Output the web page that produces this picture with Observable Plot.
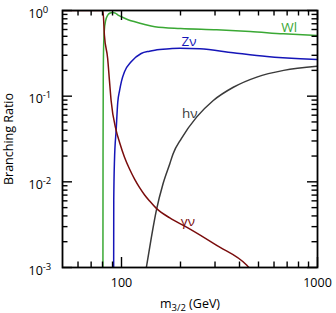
<!DOCTYPE html>
<html><head><meta charset="utf-8">
<script src="https://cdn.jsdelivr.net/npm/d3@7"></script>
<script src="https://cdn.jsdelivr.net/npm/@observablehq/plot@0.6"></script>
<style>body{margin:0;background:#fff}</style>
</head><body><div id="chart"></div>
<script>
// ---- data (gravitino mass in GeV, branching ratio) ----
const wlMass = [80.4, 80.5, 80.7, 81.1, 81.8, 83.0, 85.0, 87.5, 90.2, 93.0, 96.0, 100, 108, 117, 130, 148, 200, 306, 453, 670, 1000];
const wlBR   = [0.0008, 0.02, 0.15, 0.4, 0.6, 0.76, 0.88, 0.935, 0.95, 0.93, 0.885, 0.845, 0.78, 0.738, 0.69, 0.645, 0.615, 0.595, 0.569, 0.535, 0.511];

const zvMass = [91.2, 91.3, 92.1, 93.9, 95.7, 97.7, 100, 103.6, 112, 126, 139, 148, 176, 198, 251, 371, 552, 818, 1000];
const zvBR   = [0.0008, 0.006, 0.018, 0.04, 0.085, 0.115, 0.15, 0.193, 0.252, 0.315, 0.335, 0.344, 0.357, 0.363, 0.357, 0.321, 0.29, 0.273, 0.268];

const gvMass = [50, 80.4, 81.8, 85, 86.8, 88.5, 93.9, 97.7, 103.6, 109.9, 116.6, 123.7, 131.2, 139.2, 150.6, 176.4, 214.8, 306, 436, 450];
const gvBR   = [1.0, 1.0, 0.515, 0.275, 0.152, 0.089, 0.0398, 0.029, 0.0194, 0.0141, 0.01075, 0.00855, 0.00703, 0.00596, 0.0049, 0.00379, 0.00296, 0.00181, 0.00106, 0.00098];

const hvMass = [133.9, 142.1, 150.6, 162.9, 176.4, 183.4, 202, 241.6, 294, 372, 490, 672, 1000];
const hvBR   = [0.001, 0.00226, 0.00464, 0.0095, 0.0163, 0.0213, 0.032, 0.0569, 0.089, 0.127, 0.167, 0.2, 0.224];

const seriesNames = ["Wl", "Zν", "hν", "γν"];
const labelMass = [718, 221, 223, 218];
const labelBR   = [0.633, 0.435, 0.0628, 0.00345];

const xMajorTicks = [100, 1000];
const xMinorTicks = [60, 70, 80, 90, 200, 300, 400, 500, 600, 700, 800, 900];
const xTickLabels = ["100", "1000"];
const yMajorTicks = [1, 0.1, 0.01, 0.001];
const yMinorTicks = [0.9,0.8,0.7,0.6,0.5,0.4,0.3,0.2, 0.09,0.08,0.07,0.06,0.05,0.04,0.03,0.02, 0.009,0.008,0.007,0.006,0.005,0.004,0.003,0.002];
const yTickLabels = ["10^0", "10^-1", "10^-2", "10^-3"];
const xTitle = "m_3/2_ (GeV)";
const yTitle = "Branching Ratio";

// ---- styles ----
const colors = {"Wl": "#3aa834", "Zν": "#1515b8", "hν": "#3a3a3a", "γν": "#7a0c0c"};

const rows = [];
const add = (name, ms, bs) => ms.forEach((m, i) => rows.push({name, m, br: bs[i]}));
add("Wl", wlMass, wlBR);
add("Zν", zvMass, zvBR);
add("hν", hvMass, hvBR);
add("γν", gvMass, gvBR);
const labels = seriesNames.map((n, i) => ({name: n, m: labelMass[i], br: labelBR[i]}));

const W = 336, H = 313, mL = 62, mR = 19, mT = 10, mB = 46;
const iw = W - mL - mR, ih = H - mT - mB;
const majLen = 10, minLen = 5.5;

const chart = Plot.plot({
  width: W, height: H,
  marginLeft: mL, marginRight: mR, marginTop: mT, marginBottom: mB,
  style: {fontFamily: "'Open Sans', sans-serif", fontSize: "12px", background: "#fff", color: "#000"},
  x: {type: "log", domain: [50, 1000], axis: null},
  y: {type: "log", domain: [0.001, 1], axis: null},
  marks: [
    ...seriesNames.map(n => Plot.line(rows.filter(r => r.name === n), {
      x: "m", y: "br", stroke: colors[n], strokeWidth: 1.5, curve: "monotone-x", clip: true
    })),
    Plot.text(labels, {x: "m", y: "br", text: "name", fill: d => colors[d.name], fontSize: 13.5,
      textAnchor: "middle", lineAnchor: "middle"}),
    // x ticks bottom & top
    Plot.ruleX(xMinorTicks, {x: d => d, insetTop: ih - minLen, stroke: "#000", strokeWidth: 1.4}),
    Plot.ruleX(xMinorTicks, {x: d => d, insetBottom: ih - minLen, stroke: "#000", strokeWidth: 1.4}),
    Plot.ruleX(xMajorTicks, {x: d => d, insetTop: ih - majLen, stroke: "#000", strokeWidth: 1.4}),
    Plot.ruleX(xMajorTicks, {x: d => d, insetBottom: ih - majLen, stroke: "#000", strokeWidth: 1.4}),
    // y ticks left & right
    Plot.ruleY(yMinorTicks, {y: d => d, insetRight: iw - minLen, stroke: "#000", strokeWidth: 1.4}),
    Plot.ruleY(yMinorTicks, {y: d => d, insetLeft: iw - minLen, stroke: "#000", strokeWidth: 1.4}),
    Plot.ruleY(yMajorTicks, {y: d => d, insetRight: iw - majLen, stroke: "#000", strokeWidth: 1.4}),
    Plot.ruleY(yMajorTicks, {y: d => d, insetLeft: iw - majLen, stroke: "#000", strokeWidth: 1.4}),
    Plot.frame({stroke: "#000", strokeWidth: 1.8}),
    // tick labels
    Plot.text(yMajorTicks, {y: d => d, text: (d, i) => yTickLabels[i], frameAnchor: "left", dx: -34, dy: 3,
      textAnchor: "start", lineAnchor: "middle", fontSize: 12.5}),
    Plot.text(xMajorTicks, {x: d => d, text: (d, i) => xTickLabels[i], frameAnchor: "bottom", dy: 15,
      textAnchor: "middle", lineAnchor: "middle", fontSize: 12.5}),
    Plot.text([xTitle], {text: d => d, frameAnchor: "bottom", dy: 36, textAnchor: "middle",
      lineAnchor: "middle", fontSize: 12.5}),
    Plot.text([yTitle], {text: d => d, frameAnchor: "left", dx: -54, rotate: -90, textAnchor: "middle",
      lineAnchor: "middle", fontSize: 12.5})
  ]
});

// superscripts on y tick labels, subscript on x title
d3.select(chart).selectAll("text").each(function() {
  const s = d3.select(this);
  const t = s.text();
  if (t.includes("^")) {
    const [base, exp] = t.split("^");
    s.text(null);
    s.append("tspan").text(base);
    s.append("tspan").attr("dy", -5).attr("font-size", 9.5).text(exp);
  } else if (t.includes("_")) {
    const parts = t.split("_");
    s.text(null);
    s.append("tspan").text(parts[0]);
    s.append("tspan").attr("dy", 3.5).attr("font-size", 9.5).text(parts[1]);
    s.append("tspan").attr("dy", -3.5).text(parts[2]);
  }
});

document.getElementById("chart").append(chart);
</script>
</body></html>
